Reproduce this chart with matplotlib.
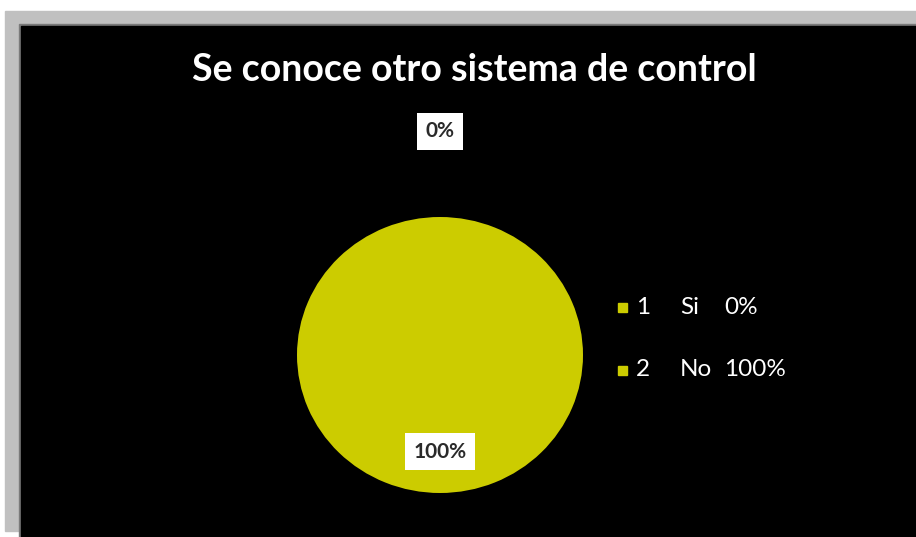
import matplotlib
matplotlib.use("Agg")
import matplotlib.pyplot as plt
from matplotlib.patches import Rectangle
import numpy as np

categories = ["Si", "No"]
codes = ["1", "2"]
values = [0, 100]
colors = ["#cccc00", "#cccc00"]
title = "Se conoce otro sistema de control"

plt.rcParams['font.family'] = ['Lato', 'DejaVu Sans']

W, H = 916, 537
fig = plt.figure(figsize=(W/100, H/100), dpi=100, facecolor="white")

def frect(x0, y0, x1, y1, color, z):
    # pixel coords (top-left origin)
    fig.patches.append(Rectangle((x0/W, 1 - y1/H), (x1-x0)/W, (y1-y0)/H,
                                 transform=fig.transFigure, color=color, zorder=z))

frect(5, 11, 916, 531, "#c0c0c0", -12)
frect(19, 24, 916, 537, "#7a7a7a", -11)
frect(21, 26, 916, 537, "#000000", -10)

# pie axes: center (440,355), rx 143, ry 138
cx, cy, rx, ry = 440, 355, 143, 138
ax = fig.add_axes([(cx-rx)/W, 1-(cy+ry)/H, 2*rx/W, 2*ry/H])
ax.set_facecolor("none")
wedges, _ = ax.pie(values, colors=colors, startangle=90, counterclock=False,
                   wedgeprops=dict(linewidth=0))
ax.set_aspect("auto")
ax.set_xlim(-1, 1)
ax.set_ylim(-1, 1)
ax.axis("off")

total = sum(values)
start = 90.0
dists = [1.62, 0.70]
for v, d in zip(values, dists):
    frac = v/total
    mid = start - frac*360/2
    start -= frac*360
    ang = np.deg2rad(mid)
    ax.text(d*np.cos(ang), d*np.sin(ang), f"{v:.0f}%", ha="center", va="center",
            fontsize=15, fontweight="bold", color="#2a2a2a", clip_on=False,
            bbox=dict(boxstyle="square,pad=0.4", fc="white", ec="none"))

fig.text(474/W, 1-70/H, title, ha="center", va="center", color="white",
         fontsize=27, fontweight="bold")

# legend
ys = [307, 370]
for code, cat, v, col, y in zip(codes, categories, values, colors, ys):
    fig.patches.append(Rectangle((618/W, 1-(y+4.5)/H), 9/W, 9/H,
                                 transform=fig.transFigure, color=col, zorder=2))
    fig.text(636/W, 1-y/H, code, color="white", fontsize=17.5, va="center", ha="left")
    fig.text(680/W, 1-y/H, cat, color="white", fontsize=17.5, va="center", ha="left")
    fig.text(724/W, 1-y/H, f"{v:.0f}%", color="white", fontsize=17.5, va="center", ha="left")

fig.savefig("out.png", dpi=100, facecolor="white")
